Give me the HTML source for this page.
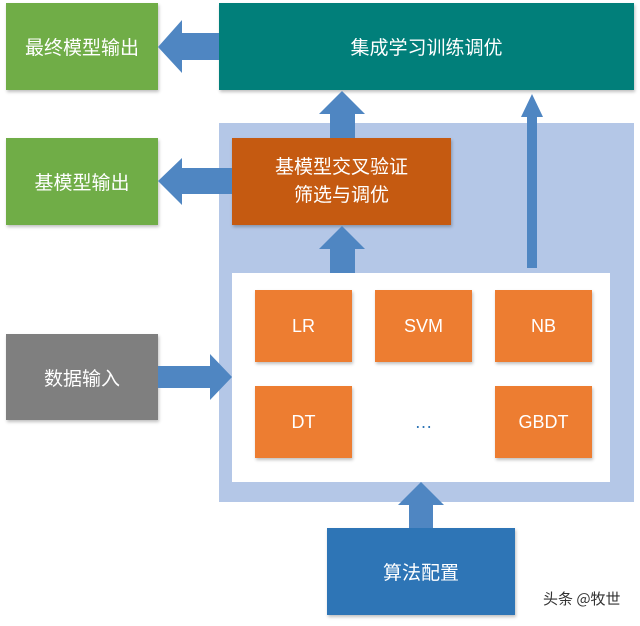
<!DOCTYPE html>
<html><head><meta charset="utf-8"><style>
body{margin:0;width:640px;height:626px;background:#fff;position:relative;overflow:hidden;font-family:"Liberation Sans","Noto Sans CJK SC",sans-serif}
.b{position:absolute;display:flex;align-items:center;justify-content:center;color:#fff;text-align:center;box-shadow:1px 2px 3px rgba(0,0,0,.25)}
svg{position:absolute;left:0;top:0}
</style></head><body>
<div class="b" style="left:219px;top:123px;width:415px;height:379px;background:#b4c7e7;box-shadow:none"></div>
<div class="b" style="left:232px;top:273px;width:378px;height:209px;background:#fff;box-shadow:none"></div>
<div class="b" style="left:6px;top:3px;width:152px;height:87px;background:#70ad47;font-size:19px">最终模型输出</div>
<div class="b" style="left:219px;top:3px;width:415px;height:87px;background:#017f7a;font-size:19px">集成学习训练调优</div>
<div class="b" style="left:6px;top:138px;width:152px;height:87px;background:#70ad47;font-size:19px">基模型输出</div>
<div class="b" style="left:232px;top:138px;width:219px;height:87px;background:#c55a11;font-size:19px;line-height:28px">基模型交叉验证<br>筛选与调优</div>
<div class="b" style="left:6px;top:334px;width:152px;height:86px;background:#7f7f7f;font-size:19px">数据输入</div>
<div class="b" style="left:255px;top:290px;width:97px;height:72px;background:#ed7d31;font-size:18px">LR</div>
<div class="b" style="left:375px;top:290px;width:97px;height:72px;background:#ed7d31;font-size:18px">SVM</div>
<div class="b" style="left:495px;top:290px;width:97px;height:72px;background:#ed7d31;font-size:18px">NB</div>
<div class="b" style="left:255px;top:386px;width:97px;height:72px;background:#ed7d31;font-size:18px">DT</div>
<div class="b" style="left:375px;top:386px;width:97px;height:72px;color:#2e75b6;font-size:18px;box-shadow:none">…</div>
<div class="b" style="left:495px;top:386px;width:97px;height:72px;background:#ed7d31;font-size:18px">GBDT</div>
<div class="b" style="left:327px;top:528px;width:188px;height:87px;background:#2e75b6;font-size:19px">算法配置</div>
<svg width="640" height="626">
<g fill="#4f86c2">
<polygon points="158,47 182,20 182,33 219,33 219,60 182,60 182,73"/>
<polygon points="158,181 182,158 182,168 232,168 232,194 182,194 182,205"/>
<polygon points="342,91 365,114 355,114 355,138 330,138 330,114 319,114"/>
<polygon points="342,226 365,249 355,249 355,273 330,273 330,249 319,249"/>
<polygon points="532,94 543,117 537,117 537,268 527,268 527,117 521,117"/>
<polygon points="232,377 210,354 210,366 158,366 158,388 210,388 210,400"/>
<polygon points="421,482 444,505 433,505 433,528 409,528 409,505 398,505"/>
</g>
<text x="543" y="604" font-size="15" fill="#333" font-family="Noto Sans CJK SC,sans-serif">头条 @牧世</text>
</svg>
</body></html>
